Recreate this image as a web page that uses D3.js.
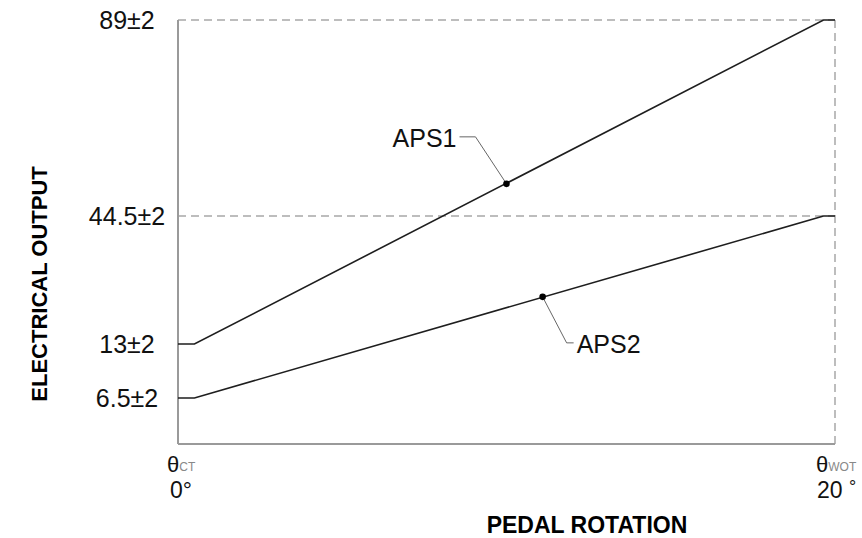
<!DOCTYPE html>
<html>
<head>
<meta charset="utf-8">
<script src="https://cdn.jsdelivr.net/npm/d3@7"></script>
<style>
  html, body { margin: 0; padding: 0; background: #fff; }
  svg { display: block; font-family: "Liberation Sans", Arial, sans-serif; }
</style>
</head>
<body>
<svg id="chart" width="862" height="538"></svg>
<script>
// ---- data ----
const yTickValues = [6.5, 13, 44.5, 89];
const yTickLabels = ["6.5±2", "13±2", "44.5±2", "89±2"];
const xTickValues = [0, 20];
const xTickSymbols = ["θ", "θ"];
const xTickSubs = ["CT", "WOT"];
const xTickDegrees = ["0", "20 "];

const aps1Angle = [0, 0.5, 19.65, 20];
const aps1Output = [13, 13, 89, 89];
const aps2Angle = [0, 0.5, 19.65, 20];
const aps2Output = [6.5, 6.5, 44.5, 44.5];

const calloutNames = ["APS1", "APS2"];
const calloutAngle = [10.0, 11.1];
const calloutOutput = [51.8, 24.6];

const xTitle = "PEDAL ROTATION";
const yTitle = "ELECTRICAL OUTPUT";

// ---- layout ----
const svg = d3.select("#chart");
const plotL = 178, plotR = 835, plotT = 20, plotB = 444;

const x = d3.scaleLinear().domain([0, 20]).range([plotL, plotR]);
// schematic (non-proportional) output axis: piecewise linear
const y = d3.scaleLinear()
  .domain([0, 6.5, 13, 44.5, 89])
  .range([plotB, 398, 344, 216, plotT]);

const gridColor = "#a8a8a8";
const axisColor = "#9a9a9a";

// dashed reference lines
svg.append("line")
  .attr("x1", x(0)).attr("x2", x(20)).attr("y1", y(89)).attr("y2", y(89))
  .attr("stroke", gridColor).attr("stroke-width", 1.5).attr("stroke-dasharray", "8,5");
svg.append("line")
  .attr("x1", x(0)).attr("x2", x(20)).attr("y1", y(44.5)).attr("y2", y(44.5))
  .attr("stroke", gridColor).attr("stroke-width", 1.5).attr("stroke-dasharray", "8,5");
svg.append("line")
  .attr("x1", x(20)).attr("x2", x(20)).attr("y1", y(89)).attr("y2", y(0))
  .attr("stroke", gridColor).attr("stroke-width", 1.5).attr("stroke-dasharray", "8,5");

// axes (solid)
svg.append("line")
  .attr("x1", x(0)).attr("x2", x(0)).attr("y1", y(89)).attr("y2", y(0))
  .attr("stroke", axisColor).attr("stroke-width", 2);
svg.append("line")
  .attr("x1", x(0)).attr("x2", x(20)).attr("y1", y(0)).attr("y2", y(0))
  .attr("stroke", axisColor).attr("stroke-width", 2);

// y tick labels
svg.append("g").selectAll("text")
  .data(yTickValues)
  .join("text")
  .attr("x", 127)
  .attr("y", d => y(d))
  .attr("dy", "0.36em")
  .attr("text-anchor", "middle")
  .attr("font-size", 25)
  .attr("fill", "#111")
  .text((d, i) => yTickLabels[i]);

// x tick labels
const xt = svg.append("g").selectAll("g")
  .data(xTickValues)
  .join("g")
  .attr("transform", (d, i) => `translate(${x(d) + (i === 0 ? -11 : -19)},0)`);
xt.append("text")
  .attr("x", 0).attr("y", 472)
  .attr("font-size", 22).attr("fill", "#111")
  .text((d, i) => xTickSymbols[i])
  .append("tspan")
  .attr("font-size", 12).attr("fill", "#888").attr("dx", 0).attr("dy", -1)
  .text((d, i) => xTickSubs[i]);
xt.append("text")
  .attr("x", (d, i) => i === 0 ? 3 : 1).attr("y", 498)
  .attr("font-size", 23).attr("fill", "#111")
  .text((d, i) => xTickDegrees[i])
  .append("tspan")
  .attr("font-size", (d, i) => i === 0 ? 23 : 18)
  .attr("dy", (d, i) => i === 0 ? 0 : -5)
  .text("°");

// curves
const line = d3.line().x(d => x(d[0])).y(d => y(d[1]));
const series = [
  d3.zip(aps1Angle, aps1Output),
  d3.zip(aps2Angle, aps2Output)
];
svg.append("g").selectAll("path")
  .data(series)
  .join("path")
  .attr("d", line)
  .attr("fill", "none")
  .attr("stroke", "#1e1e1e")
  .attr("stroke-width", 1.6);

// callouts
const leaderColor = "#666";
calloutNames.forEach((name, i) => {
  const px = x(calloutAngle[i]), py = y(calloutOutput[i]);
  const g = svg.append("g");
  if (i === 0) {
    const cx = px - 31, cy = py - 47;
    g.append("polyline")
      .attr("points", `${cx - 16},${cy} ${cx},${cy} ${px},${py}`)
      .attr("fill", "none").attr("stroke", leaderColor).attr("stroke-width", 1);
    g.append("text")
      .attr("x", cx - 19).attr("y", cy + 10)
      .attr("text-anchor", "end").attr("font-size", 25).attr("fill", "#111")
      .text(name);
  } else {
    const cx = px + 24, cy = py + 46;
    g.append("polyline")
      .attr("points", `${px},${py} ${cx},${cy} ${cx + 7},${cy}`)
      .attr("fill", "none").attr("stroke", leaderColor).attr("stroke-width", 1);
    g.append("text")
      .attr("x", cx + 10).attr("y", cy + 10)
      .attr("text-anchor", "start").attr("font-size", 25).attr("fill", "#111")
      .text(name);
  }
  g.append("circle").attr("cx", px).attr("cy", py).attr("r", 3.3).attr("fill", "#000");
});

// axis titles
svg.append("text")
  .attr("x", 587).attr("y", 533)
  .attr("text-anchor", "middle")
  .attr("font-size", 23).attr("font-weight", "bold").attr("fill", "#000")
  .text(xTitle);
svg.append("text")
  .attr("transform", "translate(47,284) rotate(-90)")
  .attr("text-anchor", "middle")
  .attr("font-size", 22).attr("font-weight", "bold").attr("fill", "#000")
  .text(yTitle);
</script>
</body>
</html>
